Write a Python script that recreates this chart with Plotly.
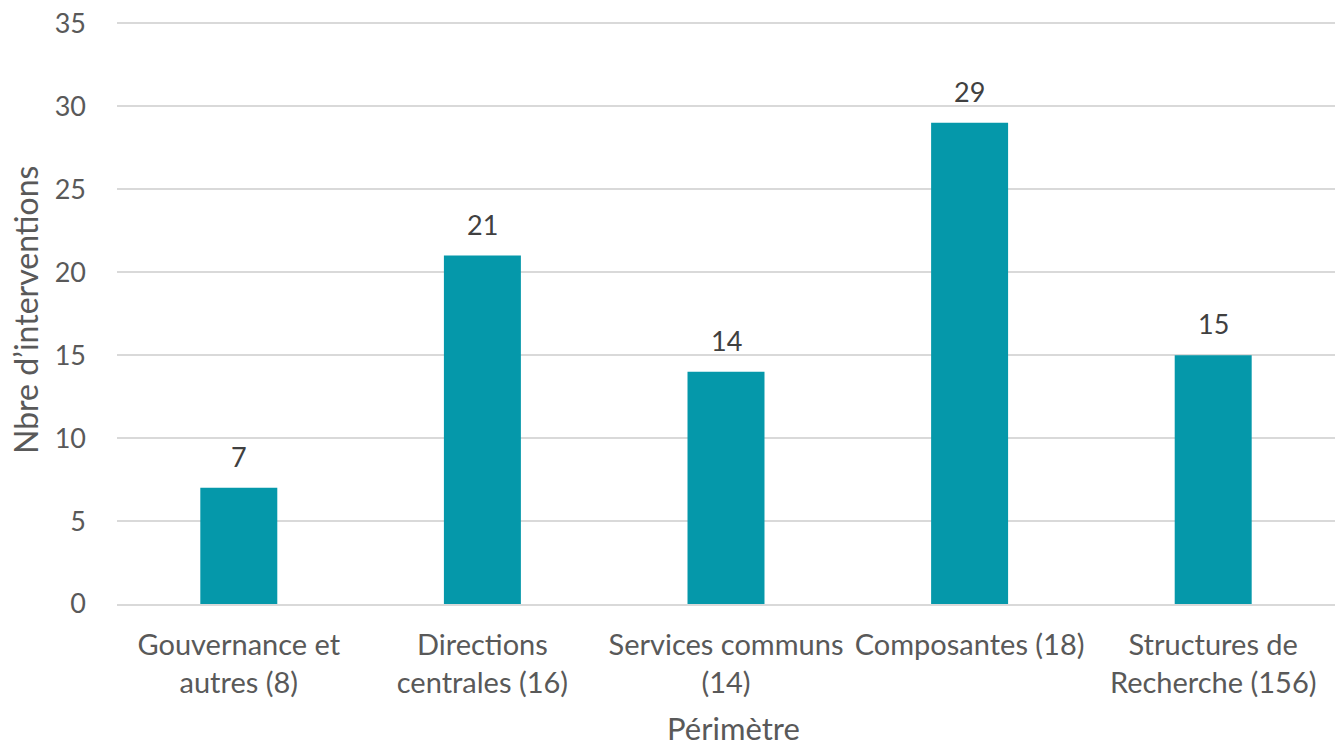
import plotly.graph_objects as go

categories = ["Gouvernance et<br>autres (8)", "Directions<br>centrales (16)", "Services communs<br>(14)",
              "Composantes (18)", "Structures de<br>Recherche (156)"]
values = [7, 21, 14, 29, 15]
y_ticks = [0, 5, 10, 15, 20, 25, 30, 35]

FONT = "Lato, 'Open Sans', sans-serif"
W, H = 1335, 748
L, R, T, B = 117, 0, 20, 144
PW, PH = W - L - R, H - T - B

fig = go.Figure()
fig.add_trace(go.Bar(x=categories, y=values, marker=dict(color="#0598AA", line=dict(width=0)),
                     hoverinfo="skip"))
for c, v in zip(categories, values):
    fig.add_annotation(x=c, y=v, text=str(v), showarrow=False, yanchor="bottom", yshift=13,
                       font=dict(size=27, color="#404040", family=FONT))

# axis titles as annotations for precise placement
fig.add_annotation(xref="paper", yref="paper", x=(25 - L) / PW, y=(H - B - 310) / PH,
                   text="Nbre d’interventions", textangle=-90, showarrow=False,
                   xanchor="center", yanchor="middle", font=dict(size=32, color="#595959", family=FONT))
fig.add_annotation(xref="paper", yref="paper", x=(733 - L) / PW, y=(H - B - 728) / PH,
                   text="Périmètre", showarrow=False,
                   xanchor="center", yanchor="middle", font=dict(size=31, color="#595959", family=FONT))

fig.update_layout(
    width=W, height=H,
    margin=dict(l=L, r=R, t=T, b=B),
    plot_bgcolor="white", paper_bgcolor="white",
    bargap=0.684, showlegend=False,
    font=dict(family=FONT, size=27, color="#595959"),
    xaxis=dict(showline=True, linecolor="#d9d9d9", linewidth=2, ticks="",
               tickfont=dict(size=29), ticklabelstandoff=14, automargin=False),
    yaxis=dict(range=[0, 35.2], tickvals=y_ticks, showgrid=True, gridcolor="#d9d9d9", gridwidth=1.5,
               zeroline=False, ticks="", ticklabelstandoff=30, tickfont=dict(size=27), automargin=False),
)
fig.write_html("out.html", config={"displayModeBar": False},
               post_script="document.body.style.margin='0';document.body.style.overflow='hidden';")
